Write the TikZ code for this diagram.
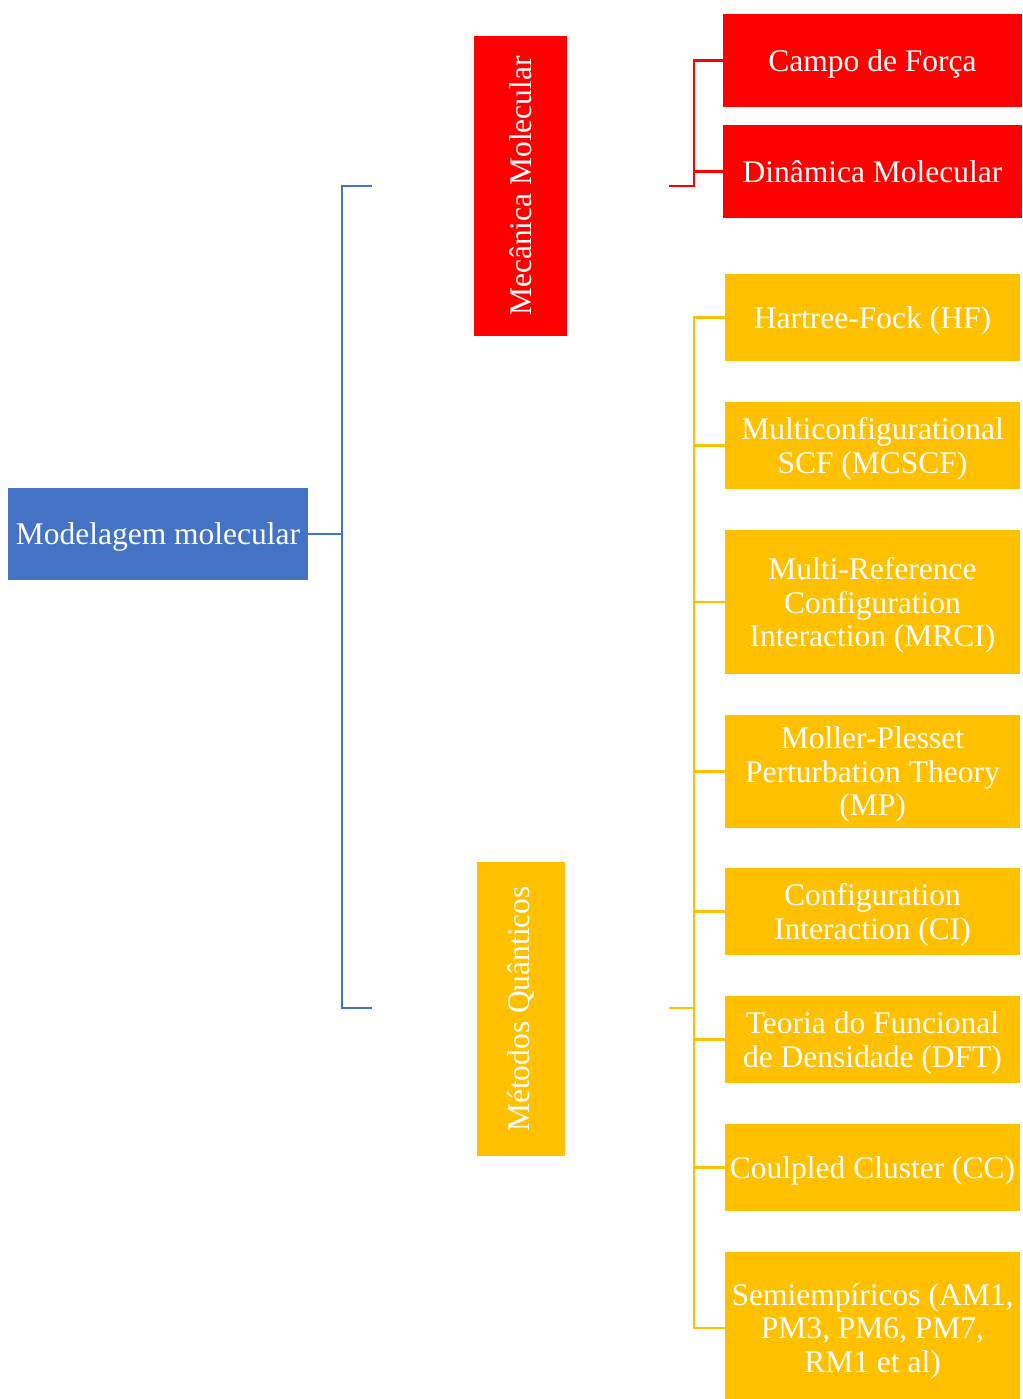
\documentclass[tikz,border=0pt]{standalone}
\usepackage{fontspec}
\setmainfont{Liberation Serif}
\definecolor{cblue}{HTML}{4472C4}
\definecolor{cred}{HTML}{FF0000}
\definecolor{cyel}{HTML}{FFC000}
\begin{document}
\begin{tikzpicture}[x=1pt,y=-1pt,
  box/.style={inner sep=0pt, text=white, align=center,
    font=\fontsize{31.5}{33.5}\selectfont},
  hbox/.style={box, text depth=0pt},
  bluebox/.style={hbox, fill=cblue},
  redbox/.style={hbox, fill=cred, minimum width=299pt, minimum height=93pt},
  yelbox/.style={hbox, fill=cyel, minimum width=295pt},
  bline/.style={draw=cblue, line width=2.5pt},
  rline/.style={draw=cred, line width=2.5pt},
  yline/.style={draw=cyel, line width=2.5pt}]
\useasboundingbox (0,0) rectangle (1022,1399);
% root
\node[bluebox, minimum width=300pt, minimum height=92pt] (mm) at (158,534) {Modelagem molecular};
% level 1
\node[box, fill=cred, rotate=90, minimum width=300pt, minimum height=93pt] (mec) at (520.5,186) {Mecânica Molecular};
\node[box, fill=cyel, rotate=90, minimum width=294pt, minimum height=88pt] (mq) at (521,1009) {Métodos Quânticos};
% level 2 red
\node[redbox] (cf) at (872.5,60.5) {Campo de Força};
\node[redbox] (dm) at (872.5,171.5) {Dinâmica Molecular};
% level 2 yellow
\node[yelbox, minimum height=87pt] (hf) at (872.5,317.5) {Hartree-Fock (HF)};
\node[yelbox, minimum height=87pt] (mc) at (872.5,445.5) {Multiconfigurational\\SCF (MCSCF)};
\node[yelbox, minimum height=144pt] (mr) at (872.5,602) {Multi-Reference\\Configuration\\Interaction (MRCI)};
\node[yelbox, minimum height=113pt] (mp) at (872.5,771.5) {Moller-Plesset\\Perturbation Theory\\(MP)};
\node[yelbox, minimum height=87pt] (ci) at (872.5,911.5) {Configuration\\Interaction (CI)};
\node[yelbox, minimum height=87pt] (dft) at (872.5,1039.5) {Teoria do Funcional\\de Densidade (DFT)};
\node[yelbox, minimum height=87pt] (cc) at (872.5,1167.5) {Coulpled Cluster (CC)};
\node[yelbox, minimum height=152pt] (se) at (872.5,1328) {Semiempíricos (AM1,\\PM3, PM6, PM7,\\RM1 et al)};
% blue bracket
\coordinate (bsp) at (342,534);
\coordinate (bt) at (372,186);
\coordinate (bb) at (372,1008);
\draw[bline] (mm.east) -- (bsp);
\draw[bline] (bt) -| (bsp) |- (bb);
% red bracket
\coordinate (rs) at (669,186);
\coordinate (rsp) at (694,186);
\draw[rline] (rs) -- (rsp) |- (cf.west);
\draw[rline] (rsp) |- (dm.west);
% yellow bracket
\coordinate (ys) at (669,1008);
\coordinate (ysp) at (694,1008);
\draw[yline] (ys) -- (ysp);
\foreach \n in {hf,mc,mr,mp,ci,dft,cc,se}{
  \draw[yline] (ysp) |- (\n.west);
}
\end{tikzpicture}
\end{document}
